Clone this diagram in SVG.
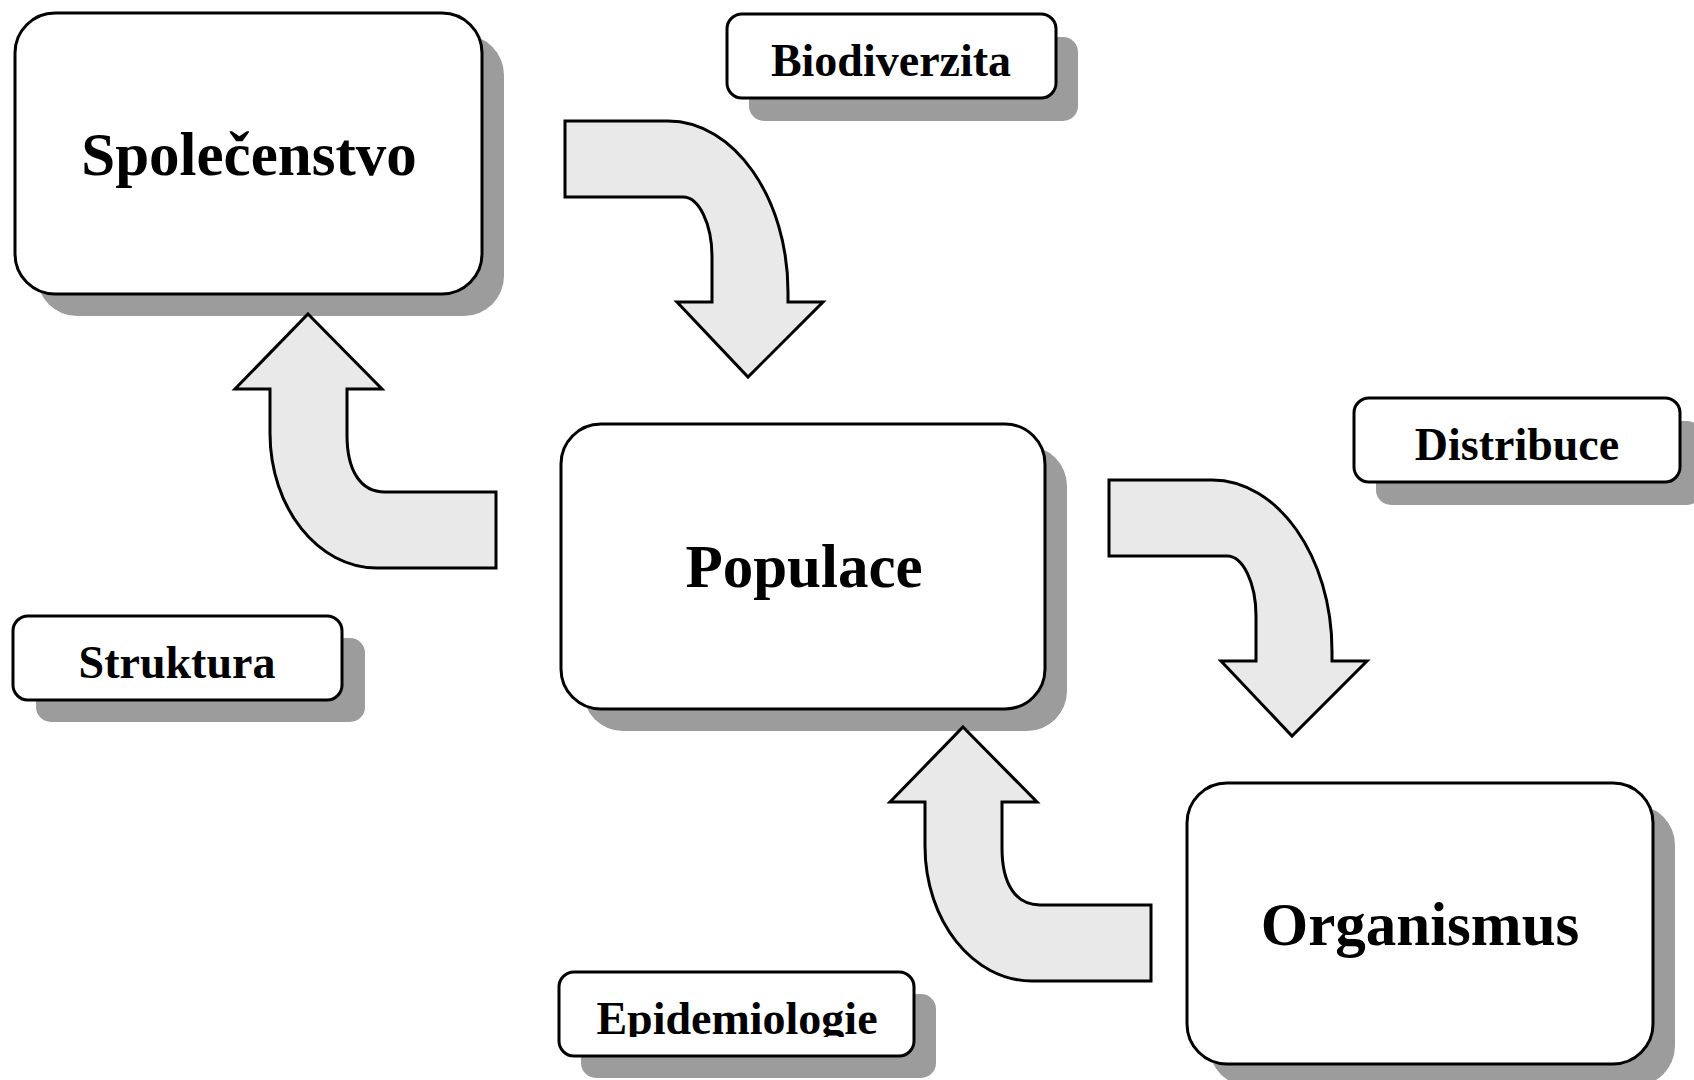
<svg xmlns="http://www.w3.org/2000/svg" width="1694" height="1080" viewBox="0 0 1694 1080">
<style>
.box{fill:#fff;stroke:#000;stroke-width:3}
.shadow{fill:#9c9c9c;stroke:none}
.big{font-family:"Liberation Serif","Times New Roman",serif;font-weight:bold;font-size:61px;text-anchor:middle;fill:#000}
.small{font-family:"Liberation Serif","Times New Roman",serif;font-weight:bold;font-size:46px;text-anchor:middle;fill:#000}
.arrow{fill:#e9e9e9;stroke:#000;stroke-width:3;stroke-linejoin:miter}
</style>
<defs>
<clipPath id="epiClip"><rect x="559" y="972" width="355" height="65"/></clipPath>
<path id="curveDown" d="M 565,121 L 668,121 C 734,121 788,198 788,292 L 788,302 L 823,302 L 748,377 L 677,302 L 712,302 L 712,257 C 712,224 699,197 683,197 L 565,197 Z"/>
<path id="curveUp" d="M 308,314 L 382,389 L 347,389 L 347,435 C 347,470 360,492 385,492 L 496,492 L 496,568 L 377,568 C 318,568 270,508 270,433 L 270,389 L 235,389 Z"/>
</defs>
<rect width="1694" height="1080" fill="#fff"/>

<g id="spolecenstvo">
<rect class="shadow" x="37" y="35" width="467" height="281" rx="40"/>
<rect class="box" x="15" y="13" width="467" height="281" rx="40"/>
<text class="big" x="249" y="175">Společenstvo</text>
</g>

<g id="biodiverzita">
<rect class="shadow" x="749" y="37" width="329" height="84" rx="15"/>
<rect class="box" x="727" y="14" width="329" height="84" rx="15"/>
<text class="small" x="891" y="76">Biodiverzita</text>
</g>

<g id="populace">
<rect class="shadow" x="583" y="446" width="484" height="285" rx="40"/>
<rect class="box" x="561" y="424" width="484" height="285" rx="40"/>
<text class="big" x="804" y="587">Populace</text>
</g>

<g id="distribuce">
<rect class="shadow" x="1376" y="421" width="326" height="84" rx="15"/>
<rect class="box" x="1354" y="398" width="326" height="84" rx="15"/>
<text class="small" x="1517" y="460">Distribuce</text>
</g>

<g id="struktura">
<rect class="shadow" x="36" y="638" width="329" height="84" rx="15"/>
<rect class="box" x="13" y="616" width="329" height="84" rx="15"/>
<text class="small" x="177" y="678">Struktura</text>
</g>

<g id="organismus">
<rect class="shadow" x="1209" y="805" width="466" height="281" rx="40"/>
<rect class="box" x="1187" y="783" width="466" height="281" rx="40"/>
<text class="big" x="1420" y="945">Organismus</text>
</g>

<g id="epidemiologie">
<rect class="shadow" x="581" y="994" width="355" height="84" rx="15"/>
<rect class="box" x="559" y="972" width="355" height="84" rx="15"/>
<text class="small" x="737" y="1034" clip-path="url(#epiClip)">Epidemiologie</text>
</g>

<g id="connectors">
<use href="#curveDown" class="arrow"/>
<use href="#curveDown" class="arrow" transform="translate(544,359)"/>
<use href="#curveUp" class="arrow"/>
<use href="#curveUp" class="arrow" transform="translate(655,413)"/>
</g>
</svg>
